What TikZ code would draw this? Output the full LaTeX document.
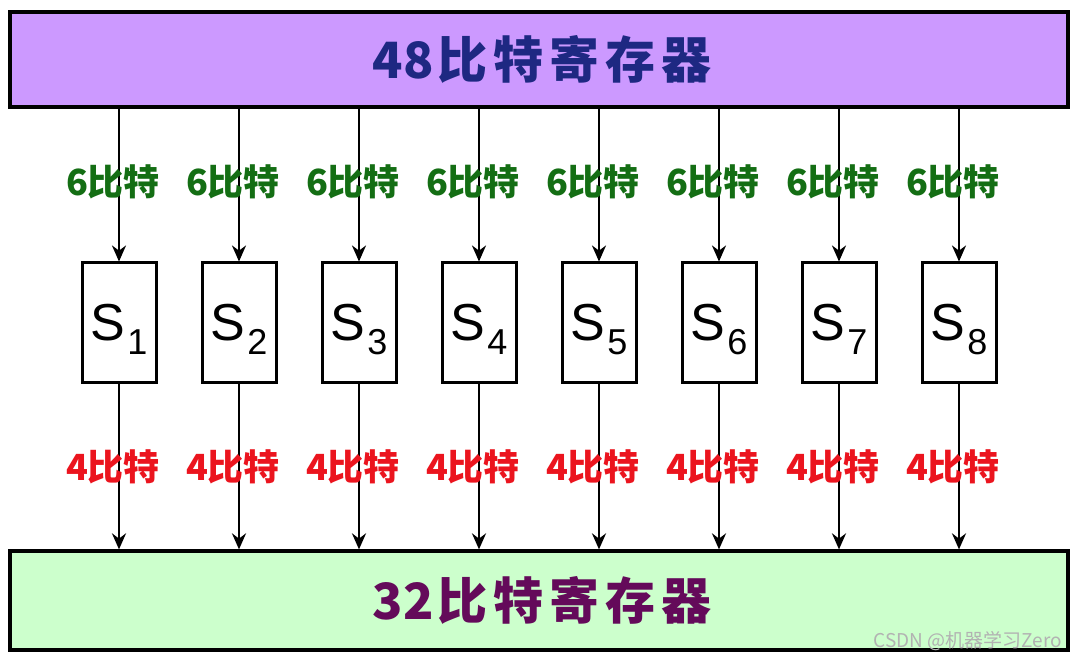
\documentclass[tikz,border=0pt]{standalone}
\usepackage{fontspec}
\newfontfamily\cjk{Noto Sans CJK SC}
\newfontfamily\arialfont{Liberation Sans}
\usetikzlibrary{arrows.meta,positioning}

\definecolor{regviolet}{RGB}{204,153,255}
\definecolor{reggreen}{RGB}{204,255,204}
\definecolor{navytext}{RGB}{30,40,130}
\definecolor{plumtext}{RGB}{100,10,90}
\definecolor{labgreen}{RGB}{20,110,20}
\definecolor{labred}{RGB}{235,20,30}

\newcommand{\sname}[1]{S\kern1pt\raisebox{-7pt}[0pt][0pt]{\fontsize{18pt}{18pt}\selectfont #1}}
\newcommand{\regtext}[2]{#1\kern2pt{\addfontfeature{LetterSpace=12}#2}\kern-3pt}

\begin{document}
\begin{tikzpicture}[
      x=0.5pt, y=-0.5pt,
      reg/.style={draw, line width=1.6pt, minimum width=529pt, inner sep=0pt,
                  font=\cjk\bfseries\fontsize{25pt}{25pt}\selectfont},
      sb/.style={draw, fill=white, line width=1.5pt, minimum width=37pt, minimum height=60pt,
                 inner sep=0pt, font=\arialfont\fontsize{26pt}{26pt}\selectfont},
      arr/.style={-{Stealth[length=8pt, width=7pt]}, line width=1.2pt},
      six/.style={font=\cjk\bfseries\fontsize{18pt}{18pt}\selectfont, text=labgreen, xshift=-3pt, yshift=1.5pt},
      four/.style={font=\cjk\bfseries\fontsize{18pt}{18pt}\selectfont, text=labred, xshift=-3pt},
    ]
    \useasboundingbox (0,0) rectangle (1078,662);
    \node[reg, fill=regviolet, minimum height=47.5pt, text=navytext] (top) at (539,59.5) {\regtext{48}{比特寄存器}};
    \node[reg, fill=reggreen, minimum height=49.5pt, text=plumtext] (bot) at (539,600.5) {\regtext{32}{比特寄存器}};
    \node[sb] (s1) at (119,323) {\sname{1}};
    \node[sb, right=21.5pt of s1] (s2) {\sname{2}};
    \node[sb, right=21.5pt of s2] (s3) {\sname{3}};
    \node[sb, right=21.5pt of s3] (s4) {\sname{4}};
    \node[sb, right=21.5pt of s4] (s5) {\sname{5}};
    \node[sb, right=21.5pt of s5] (s6) {\sname{6}};
    \node[sb, right=21.5pt of s6] (s7) {\sname{7}};
    \node[sb, right=21.5pt of s7] (s8) {\sname{8}};
    % 48 -> S
    \draw[arr] (s1.north |- top.south) -- node[six] {6比特} (s1.north);
    \draw[arr] (s2.north |- top.south) -- node[six] {6比特} (s2.north);
    \draw[arr] (s3.north |- top.south) -- node[six] {6比特} (s3.north);
    \draw[arr] (s4.north |- top.south) -- node[six] {6比特} (s4.north);
    \draw[arr] (s5.north |- top.south) -- node[six] {6比特} (s5.north);
    \draw[arr] (s6.north |- top.south) -- node[six] {6比特} (s6.north);
    \draw[arr] (s7.north |- top.south) -- node[six] {6比特} (s7.north);
    \draw[arr] (s8.north |- top.south) -- node[six] {6比特} (s8.north);
    % S -> 32
    \draw[arr] (s1.south) -- node[four] {4比特} (s1.south |- bot.north);
    \draw[arr] (s2.south) -- node[four] {4比特} (s2.south |- bot.north);
    \draw[arr] (s3.south) -- node[four] {4比特} (s3.south |- bot.north);
    \draw[arr] (s4.south) -- node[four] {4比特} (s4.south |- bot.north);
    \draw[arr] (s5.south) -- node[four] {4比特} (s5.south |- bot.north);
    \draw[arr] (s6.south) -- node[four] {4比特} (s6.south |- bot.north);
    \draw[arr] (s7.south) -- node[four] {4比特} (s7.south |- bot.north);
    \draw[arr] (s8.south) -- node[four] {4比特} (s8.south |- bot.north);
    \node[font=\cjk\fontsize{9.5pt}{9.5pt}\selectfont, text=gray!60] (mark) at (968,641) {CSDN @机器学习Zero};
  \end{tikzpicture}
\end{document}
